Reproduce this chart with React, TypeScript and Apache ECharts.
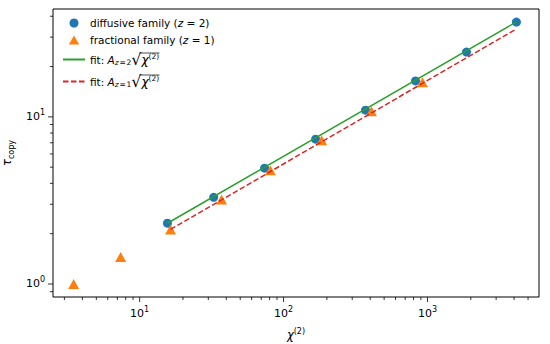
import React, { useEffect, useRef } from 'react';
import * as echarts from 'echarts';

// ---- data ----
const diffusiveX = [15.6, 32.7, 73.8, 167, 371, 826, 1866, 4150];
const diffusiveY = [2.31, 3.3, 4.93, 7.35, 10.96, 16.4, 24.4, 36.9];
const fractionalX = [3.48, 7.38, 16.4, 37.1, 81, 184, 408, 923];
const fractionalY = [1.0, 1.45, 2.12, 3.2, 4.79, 7.24, 10.8, 16.1];
const fitZ2X = [15.6, 4150];
const fitZ2Y = [2.31, 37.0];
const fitZ1X = [16.4, 4150];
const fitZ1Y = [2.12, 33.6];

const xMajorTicks = [10, 100, 1000];
const xMinorTicks = [3, 4, 5, 6, 7, 8, 9, 20, 30, 40, 50, 60, 70, 80, 90, 200, 300, 400, 500, 600, 700, 800, 900, 2000, 3000, 4000, 5000];
const yMajorTicks = [1, 10];
const yMinorTicks = [0.9, 2, 3, 4, 5, 6, 7, 8, 9, 20, 30, 40];

const X_MIN = 2.5;
const X_MAX = 5957;
const Y_MIN = 0.836;
const Y_MAX = 44.2;

const FONT = 'DejaVu Sans';
const BLUE = '#1f77b4';
const ORANGE = '#ff7f0e';
const GREEN = '#2ca02c';
const RED = '#d62728';

const N_DIFF = 'diffusive family (z = 2)';
const N_FRAC = 'fractional family (z = 1)';
const N_FIT2 = 'fit: A_{z=2} sqrt(chi2)';
const N_FIT1 = 'fit: A_{z=1} sqrt(chi2)';

const zip = (xs: number[], ys: number[]) => xs.map((x, i) => [x, ys[i]]);

const tickLabel = (v: number) => {
  const e = Math.round(Math.log10(v));
  if (Math.abs(v - Math.pow(10, e)) / v > 1e-6) return '';
  return `10{sup|${e}}`;
};

export default function App() {
  const ref = useRef<HTMLDivElement>(null);
  useEffect(() => {
    document.body.style.margin = '0';
    if (!ref.current) return;
    const chart = echarts.init(ref.current, undefined, { renderer: 'svg' });

    const labelRich = {
      sup: { fontSize: 8, fontFamily: FONT, color: '#000', verticalAlign: 'top', lineHeight: 8.5 },
    };
    const legendRich = {
      it: { fontStyle: 'italic', fontFamily: FONT, fontSize: 10.5, color: '#000' },
      itF: { fontStyle: 'italic', fontFamily: FONT, fontSize: 12, color: '#000' },
      sq: { fontFamily: FONT, fontSize: 16, color: '#000' },
      subF: { fontFamily: FONT, fontSize: 7.5, color: '#000', padding: [6, 0, 0, 0] },
      subFi: { fontFamily: FONT, fontSize: 7.5, fontStyle: 'italic', color: '#000', padding: [6, 0, 0, 0] },
      supF: { fontFamily: FONT, fontSize: 7.5, color: '#000', padding: [0, 0, 6, 0] },
    };
    const legendText: Record<string, string> = {
      [N_DIFF]: 'diffusive family ({it|z} = 2)',
      [N_FRAC]: 'fractional family ({it|z} = 1)',
      [N_FIT2]: 'fit: {it|A}{subFi|z}{subF|\u200a=\u200a2}{sq|√}{itF|χ}{supF|(2)}',
      [N_FIT1]: 'fit: {it|A}{subFi|z}{subF|\u200a=\u200a1}{sq|√}{itF|χ}{supF|(2)}',
    };

    const tickSeriesX = (values: number[], len: number) => ({
      type: 'custom',
      silent: true,
      clip: false,
      data: values.map((v) => [v, 1]),
      renderItem: (params: any, api: any) => {
        const cs = params.coordSys;
        const p = api.coord([api.value(0), 1]);
        const y0 = cs.y + cs.height;
        return {
          type: 'line',
          shape: { x1: p[0], y1: y0, x2: p[0], y2: y0 + len },
          style: { stroke: '#000', lineWidth: 0.8 },
        };
      },
      z: 5,
    });
    const tickSeriesY = (values: number[], len: number) => ({
      type: 'custom',
      silent: true,
      clip: false,
      data: values.map((v) => [10, v]),
      renderItem: (params: any, api: any) => {
        const cs = params.coordSys;
        const p = api.coord([10, api.value(1)]);
        const x0 = cs.x;
        return {
          type: 'line',
          shape: { x1: x0 - len, y1: p[1], x2: x0, y2: p[1] },
          style: { stroke: '#000', lineWidth: 0.8 },
        };
      },
      z: 5,
    });

    const hiddenSymbol = { opacity: 0, color: 'rgba(0,0,0,0)', borderWidth: 0 };

    const option: any = {
      animation: false,
      grid: {
        left: 53,
        right: 11,
        top: 9,
        bottom: 47,
        containLabel: false,
        outerBoundsMode: 'none',
        show: true,
        borderColor: '#000',
        borderWidth: 1,
        backgroundColor: 'transparent',
      },
      xAxis: {
        type: 'log',
        logBase: 10,
        min: X_MIN,
        max: X_MAX,
        axisLine: { show: false },
        axisTick: { show: false },
        splitLine: { show: false },
        axisLabel: {
          margin: 8,
          formatter: tickLabel,
          fontFamily: FONT,
          fontSize: 11,
          color: '#000',
          lineHeight: 16,
          rich: labelRich,
        },
        name: '{it|χ}{sup|(2)}',
        nameLocation: 'middle',
        nameGap: 30,
        nameTextStyle: {
          fontFamily: FONT,
          fontSize: 11,
          color: '#000',
          lineHeight: 16,
          rich: {
            it: { fontStyle: 'italic', fontFamily: FONT, fontSize: 11.5, color: '#000' },
            sup: { fontFamily: FONT, fontSize: 8, color: '#000', verticalAlign: 'top', lineHeight: 9 },
          },
        },
      },
      yAxis: {
        type: 'log',
        logBase: 10,
        min: Y_MIN,
        max: Y_MAX,
        axisLine: { show: false },
        axisTick: { show: false },
        splitLine: { show: false },
        axisLabel: {
          margin: 8,
          formatter: tickLabel,
          fontFamily: FONT,
          fontSize: 11,
          color: '#000',
          lineHeight: 16,
          rich: labelRich,
        },
        name: '{it|τ}{sub|copy}',
        nameLocation: 'middle',
        nameGap: 33,
        nameTextStyle: {
          fontFamily: FONT,
          fontSize: 11,
          color: '#000',
          lineHeight: 16,
          rich: {
            it: { fontStyle: 'italic', fontFamily: FONT, fontSize: 11.5, color: '#000' },
            sub: { fontFamily: FONT, fontSize: 8, color: '#000', verticalAlign: 'bottom', lineHeight: 10 },
          },
        },
      },
      legend: {
        orient: 'vertical',
        left: 62,
        top: 15,
        padding: 0,
        itemGap: 1,
        itemWidth: 22,
        itemHeight: 9,
        selectedMode: false,
        symbolKeepAspect: true,
        formatter: (name: string) => legendText[name] || name,
        textStyle: {
          fontFamily: FONT,
          fontSize: 10.5,
          color: '#000',
          lineHeight: 16,
          rich: legendRich,
        },
        data: [
          { name: N_DIFF, icon: 'circle' },
          { name: N_FRAC, icon: 'path://M5,0L10,8.7L0,8.7Z' },
          { name: N_FIT2, textStyle: { lineHeight: 21 }, itemStyle: hiddenSymbol },
          { name: N_FIT1, textStyle: { lineHeight: 21 }, itemStyle: hiddenSymbol },
        ],
      },
      graphic: [
        { type: 'line', shape: { x1: 139.5, y1: 53, x2: 159.5, y2: 53 }, style: { stroke: '#000', lineWidth: 0.7 } },
        { type: 'line', shape: { x1: 139.5, y1: 75, x2: 159.5, y2: 75 }, style: { stroke: '#000', lineWidth: 0.7 } },
      ],
      series: [
        {
          name: N_DIFF,
          type: 'scatter',
          symbol: 'circle',
          symbolSize: 9,
          itemStyle: { color: BLUE, opacity: 1 },
          data: zip(diffusiveX, diffusiveY),
          z: 2,
        },
        {
          name: N_FRAC,
          type: 'scatter',
          symbol: 'triangle',
          symbolSize: [11, 10],
          itemStyle: { color: ORANGE, opacity: 1 },
          data: zip(fractionalX, fractionalY),
          z: 2,
        },
        {
          name: N_FIT2,
          type: 'line',
          symbol: 'none',
          lineStyle: { color: GREEN, width: 1.5 },
          itemStyle: { color: GREEN },
          data: zip(fitZ2X, fitZ2Y),
          z: 3,
        },
        {
          name: N_FIT1,
          type: 'line',
          symbol: 'none',
          lineStyle: { color: RED, width: 1.5, type: [5.5, 2.5] },
          itemStyle: { color: RED },
          data: zip(fitZ1X, fitZ1Y),
          z: 3,
        },
        tickSeriesX(xMajorTicks, 5),
        tickSeriesX(xMinorTicks, 3),
        tickSeriesY(yMajorTicks, 5),
        tickSeriesY(yMinorTicks, 3),
      ],
    };
    chart.setOption(option);
    return () => chart.dispose();
  }, []);
  return <div ref={ref} style={{ width: 550, height: 344 }} />;
}
